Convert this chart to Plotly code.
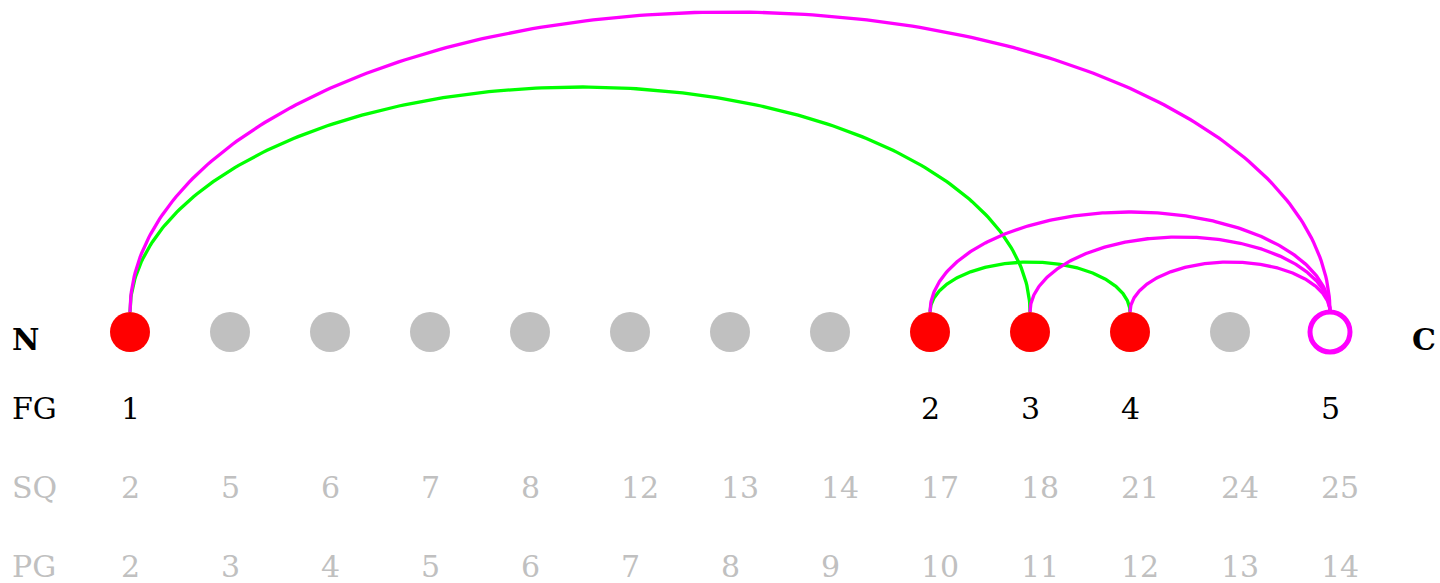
import numpy as np
import plotly.graph_objects as go

# ---- data ----
positions = list(range(13))                      # residue slots along the chain
node_kind = ["fg", "gap", "gap", "gap", "gap", "gap", "gap", "gap",
             "fg", "fg", "fg", "gap", "open"]
fg_labels = ["1", "", "", "", "", "", "", "", "2", "3", "4", "", "5"]
sq_labels = ["2", "5", "6", "7", "8", "12", "13", "14", "17", "18", "21", "24", "25"]
pg_labels = ["2", "3", "4", "5", "6", "7", "8", "9", "10", "11", "12", "13", "14"]
link_source = [0, 8, 0, 8, 9, 10]
link_target = [9, 10, 12, 12, 12, 12]
link_color = ["green", "green", "magenta", "magenta", "magenta", "magenta"]

COL = {"green": "#00ff00", "magenta": "#ff00ff", "red": "#ff0000", "gray": "#c0c0c0"}
FONT = "DejaVu Serif"

fig = go.Figure()

# arcs (semi-ellipses above the nodes)
base = 0.2
t = np.linspace(np.pi, 0, 240)
for s, e, c in zip(link_source, link_target, link_color):
    cx = (s + e) / 2
    rx = (e - s) / 2
    ry = (e - s) / 4
    fig.add_trace(go.Scatter(x=cx + rx * np.cos(t), y=base + ry * np.sin(t),
                             mode="lines", line=dict(color=COL[c], width=3.3),
                             hoverinfo="skip", showlegend=False))

# nodes
for kind, fill, lc, lw, size in [("gap", COL["gray"], COL["gray"], 0, 40),
                                 ("fg", COL["red"], COL["red"], 0, 40),
                                 ("open", "white", COL["magenta"], 5, 40)]:
    xs = [p for p, k in zip(positions, node_kind) if k == kind]
    fig.add_trace(go.Scatter(x=xs, y=[0] * len(xs), mode="markers",
                             marker=dict(size=size, color=fill, line=dict(color=lc, width=lw)),
                             hoverinfo="skip", showlegend=False))

ann = []
def txt(x, y, s, color="black", bold=False, xanchor="center", xshift=0):
    ann.append(dict(x=x, y=y, xref="x", yref="y", text=("<b>%s</b>" % s) if bold else s,
                    showarrow=False, xanchor=xanchor, yanchor="middle", xshift=xshift,
                    font=dict(family=FONT, size=30, color=color)))

row_fg, row_sq, row_pg, row_nc = -0.765, -1.55, -2.34, -0.07
left_x = -1.20
txt(left_x, row_nc, "N", bold=True, xanchor="left")
txt(12.80, row_nc, "C", bold=True, xanchor="left")
txt(left_x, row_fg, "FG", xanchor="left")
txt(left_x, row_sq, "SQ", color=COL["gray"], xanchor="left")
txt(left_x, row_pg, "PG", color=COL["gray"], xanchor="left")
for p, f, s, g in zip(positions, fg_labels, sq_labels, pg_labels):
    if f:
        txt(p, row_fg, f)
    txt(p, row_sq, s, color=COL["gray"], xanchor="left", xshift=-11)
    txt(p, row_pg, g, color=COL["gray"], xanchor="left", xshift=-11)

fig.update_layout(
    width=1440, height=583, margin=dict(l=0, r=0, t=0, b=0),
    paper_bgcolor="white", plot_bgcolor="white", annotations=ann,
    xaxis=dict(range=[-1.3, 13.1], visible=False, fixedrange=True),
    yaxis=dict(range=[-2.51, 3.32], visible=False, fixedrange=True),
)
fig.write_html("out.html", config={"displayModeBar": False, "staticPlot": True},
               post_script="document.body.style.margin='0';document.body.style.overflow='hidden';")
